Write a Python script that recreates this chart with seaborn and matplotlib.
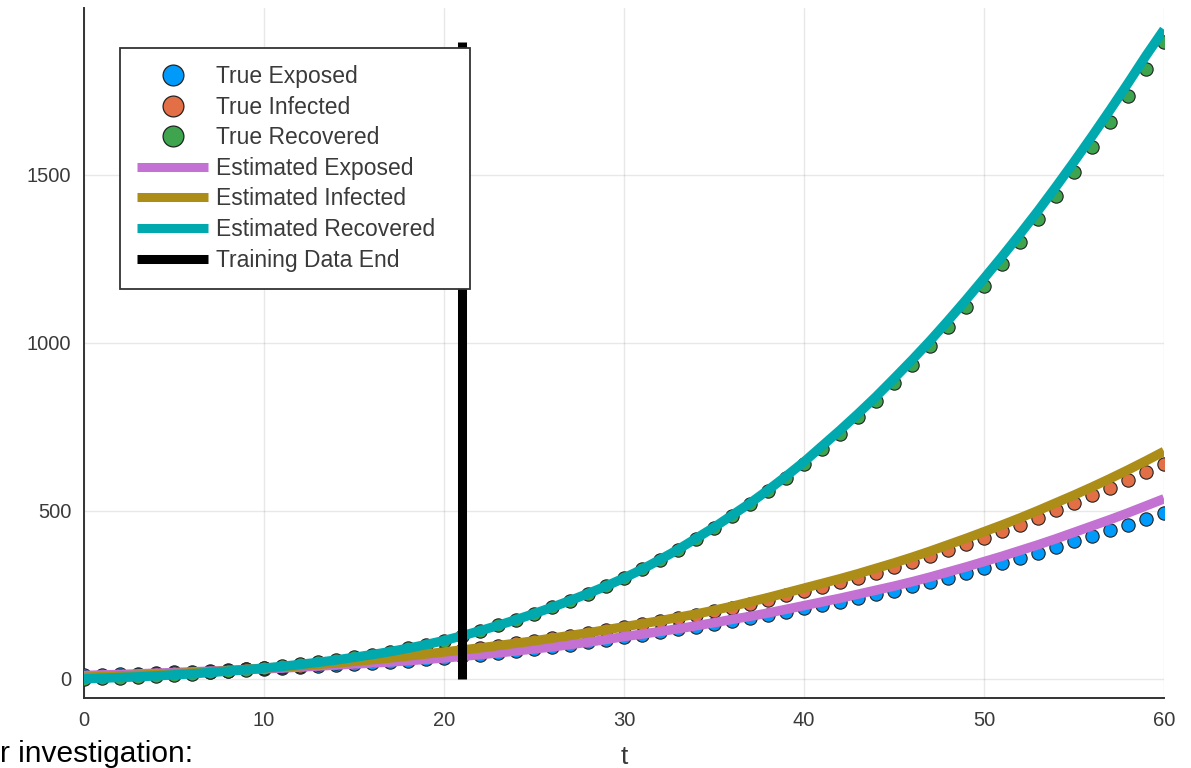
import matplotlib
matplotlib.use("Agg")
import matplotlib.pyplot as plt
from matplotlib.lines import Line2D
import pandas as pd
import seaborn as sns

# Time grid (days)
t = list(range(61))

# Observed compartments
true_exposed = [10, 12, 13, 15, 17, 19, 21, 23, 25, 28,
                30, 32, 35, 38, 41, 44, 47, 50, 54, 58,
                62, 67, 72, 77, 83, 89, 95, 102, 109, 117,
                125, 132, 139, 147, 155, 163, 172, 181, 190, 200,
                210, 220, 230, 241, 252, 263, 275, 288, 301, 315,
                329, 344, 359, 375, 392, 409, 425, 442, 459, 477,
                495]
true_infected = [5, 7, 9, 11, 13, 16, 18, 21, 24, 28,
                 32, 35, 39, 43, 47, 52, 57, 62, 68, 74,
                 80, 86, 92, 99, 106, 113, 121, 129, 137, 146,
                 155, 163, 172, 181, 191, 201, 212, 224, 236, 249,
                 262, 274, 287, 301, 316, 332, 349, 367, 385, 402,
                 420, 439, 459, 480, 502, 524, 546, 569, 592, 615,
                 639]
true_recovered = [0, 2, 4, 6, 9, 12, 15, 19, 23, 27,
                  32, 37, 43, 49, 56, 64, 72, 81, 91, 102,
                  114, 128, 143, 159, 176, 194, 213, 233, 254, 276,
                  300, 326, 354, 384, 416, 449, 484, 520, 558, 598,
                  640, 684, 730, 778, 828, 880, 934, 990, 1048, 1108,
                  1170, 1234, 1300, 1368, 1438, 1510, 1584, 1658, 1736, 1815,
                  1895]

# Model estimates
est_exposed = [10, 12, 13, 15, 17, 19, 21, 23, 25, 28,
               30, 32, 35, 38, 41, 44, 47, 50, 54, 58,
               62, 67, 72, 77, 83, 89, 95, 102, 109, 117,
               126, 133, 141, 149, 158, 167, 177, 186, 196, 207,
               218, 229, 240, 252, 264, 276, 289, 303, 318, 333,
               349, 365, 382, 399, 417, 436, 455, 474, 494, 515,
               536]
est_infected = [5, 7, 9, 11, 13, 16, 18, 21, 24, 28,
                32, 35, 39, 43, 47, 52, 57, 62, 68, 74,
                80, 86, 92, 99, 106, 113, 121, 129, 137, 146,
                155, 164, 173, 183, 193, 204, 216, 229, 242, 256,
                270, 284, 298, 313, 329, 345, 362, 380, 399, 418,
                438, 458, 479, 501, 524, 547, 571, 596, 622, 649,
                677]
est_recovered = [0, 2, 4, 6, 9, 12, 15, 19, 23, 27,
                 32, 37, 43, 49, 56, 64, 72, 81, 91, 102,
                 114, 128, 143, 159, 176, 194, 213, 233, 254, 276,
                 300, 326, 355, 385, 418, 451, 487, 523, 562, 603,
                 646, 693, 740, 789, 840, 894, 949, 1006, 1066, 1128,
                 1192, 1257, 1324, 1393, 1465, 1539, 1615, 1693, 1773, 1855,
                 1933]

training_end = 21

x_ticks = [0, 10, 20, 30, 40, 50, 60]
y_ticks = [0, 500, 1000, 1500]

C_BLUE = "#009AFA"
C_ORANGE = "#E36F47"
C_GREEN = "#3EA44E"
C_PURPLE = "#C371D2"
C_GOLD = "#AC8D18"
C_TEAL = "#00A9AD"
TXT = "#3a3a3a"

sns.set_theme(style="white")
plt.rcParams["font.family"] = ["Liberation Sans", "DejaVu Sans"]

df = pd.DataFrame({
    "t": t,
    "true_exposed": true_exposed,
    "true_infected": true_infected,
    "true_recovered": true_recovered,
    "est_exposed": est_exposed,
    "est_infected": est_infected,
    "est_recovered": est_recovered,
})

fig = plt.figure(figsize=(11.91, 7.68), dpi=100)
ax = fig.add_axes([84 / 1191, 1 - 698 / 768, 1080 / 1191, 690 / 768])

# observed points underneath
for col, c in [("true_exposed", C_BLUE), ("true_infected", C_ORANGE),
               ("true_recovered", C_GREEN)]:
    sns.scatterplot(data=df, x="t", y=col, color=c, s=92, edgecolor="#222222",
                    linewidth=0.8, ax=ax, legend=False)
for coll in ax.collections:
    coll.set_zorder(3)

# fitted trajectories on top
for col, c in [("est_exposed", C_PURPLE), ("est_infected", C_GOLD),
               ("est_recovered", C_TEAL)]:
    sns.lineplot(data=df, x="t", y=col, color=c, linewidth=6.8, ax=ax,
                 legend=False, solid_capstyle="butt")
for ln in ax.lines:
    ln.set_zorder(4)

vline = ax.plot([training_end, training_end], [0, max(true_recovered)],
                color="black", linewidth=6.5, solid_capstyle="butt")[0]
vline.set_zorder(5)

ax.set_xlim(0, 60)
ax.set_ylim(-57, 1997)
ax.set_xticks(x_ticks)
ax.set_yticks(y_ticks)
ax.set_xticklabels([str(v) for v in x_ticks])
ax.set_yticklabels([str(v) for v in y_ticks])
ax.tick_params(axis="both", direction="in", length=7, width=1.2, color="#333333",
               labelsize=14.5, labelcolor=TXT, pad=9)
ax.set_axisbelow(True)
ax.grid(True, color="black", alpha=0.09, linewidth=1.0)

for side in ["top", "right"]:
    ax.spines[side].set_visible(False)
for side in ["left", "bottom"]:
    ax.spines[side].set_color("#333333")
    ax.spines[side].set_linewidth(1.4)

ax.set_ylabel("")
ax.set_xlabel("t", fontsize=19, color=TXT)
ax.xaxis.set_label_coords(0.5, -0.068)

mk = dict(linestyle="none", marker="o", markersize=15,
          markeredgecolor="#222222", markeredgewidth=0.9)
handles = [
    Line2D([], [], markerfacecolor=C_BLUE, **mk),
    Line2D([], [], markerfacecolor=C_ORANGE, **mk),
    Line2D([], [], markerfacecolor=C_GREEN, **mk),
    Line2D([], [], color=C_PURPLE, linewidth=6.5, solid_capstyle="butt"),
    Line2D([], [], color=C_GOLD, linewidth=6.5, solid_capstyle="butt"),
    Line2D([], [], color=C_TEAL, linewidth=6.5, solid_capstyle="butt"),
    Line2D([], [], color="black", linewidth=6.5, solid_capstyle="butt"),
]
labels = ["True Exposed", "True Infected", "True Recovered",
          "Estimated Exposed", "Estimated Infected", "Estimated Recovered",
          "Training Data End"]
leg = ax.legend(handles, labels, loc="upper left",
                bbox_to_anchor=(0.0333, 0.588, 0.3241, 0.354), mode="expand",
                fontsize=16.5, frameon=True, fancybox=False, framealpha=1.0,
                edgecolor="#333333", facecolor="white",
                handlelength=3.1, handletextpad=0.35, labelspacing=0.33,
                borderpad=0.75, borderaxespad=0.0)
leg.get_frame().set_linewidth(1.3)
leg.set_zorder(10)
for txt in leg.get_texts():
    txt.set_color(TXT)

fig.text(0.0, 6 / 768, "r investigation:", fontsize=21.5, color="black",
         ha="left", va="baseline")

fig.savefig("out.png", dpi=100)
